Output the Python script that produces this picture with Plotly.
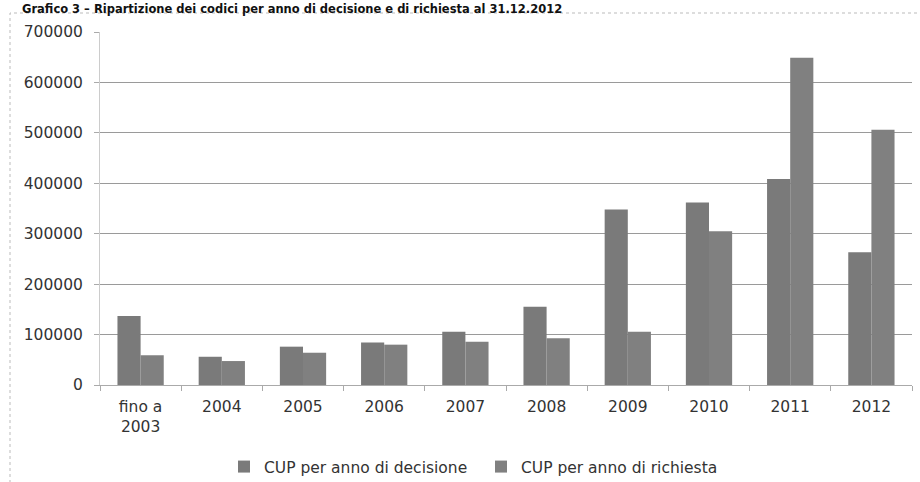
import plotly.graph_objects as go

categories = ["fino a<br>2003", "2004", "2005", "2006", "2007", "2008", "2009", "2010", "2011", "2012"]
decisione = [137000, 56000, 76000, 84500, 105500, 155000, 348000, 362000, 408500, 263000]
richiesta = [59000, 47500, 64000, 80000, 86000, 92500, 105500, 305000, 649000, 506000]
y_ticks = [0, 100000, 200000, 300000, 400000, 500000, 600000, 700000]

font_fam = "DejaVu Sans, sans-serif"

fig = go.Figure()
fig.add_trace(go.Bar(x=categories, y=decisione, name="CUP per anno di decisione",
                     marker=dict(color="#7a7a7a", line=dict(width=0))))
fig.add_trace(go.Bar(x=categories, y=richiesta, name="CUP per anno di richiesta",
                     marker=dict(color="#808080", line=dict(width=0))))

L, R, T, B = 100, 8, 32, 97
W, H = 920, 482
pw = W - L - R
ph = H - T - B

def px_x(px):
    return (px - L) / pw

def px_y(py):
    return (H - B - py) / ph

fig.update_layout(
    width=W, height=H,
    margin=dict(l=L, r=R, t=T, b=B, autoexpand=False),
    paper_bgcolor="white", plot_bgcolor="white",
    barmode="group", bargap=0.43, bargroupgap=0,
    font=dict(family=font_fam, size=15, color="#333333"),
    showlegend=True,
    legend=dict(orientation="h", x=px_x(481), xanchor="center", y=px_y(450), yanchor="top",
                font=dict(size=15.5, color="#333333"), itemsizing="constant",
                entrywidth=212),
    xaxis=dict(type="category", showline=True, linecolor="#aaaaaa", linewidth=1,
               ticks="outside", tickson="boundaries", ticklen=5, tickcolor="#aaaaaa",
               showgrid=False, tickfont=dict(size=15.5, color="#333333"),
               ticklabelstandoff=7),
    yaxis=dict(range=[0, 700000], tickvals=y_ticks, ticktext=[str(v) for v in y_ticks],
               showgrid=True, gridcolor="#9a9a9a", gridwidth=1,
               showline=True, linecolor="#cccccc", ticks="outside", ticklen=5,
               tickcolor="#aaaaaa", tickfont=dict(size=15.5, color="#333333"),
               ticklabelstandoff=8, zeroline=False),
    shapes=[dict(type="rect", xref="paper", yref="paper",
                 x0=px_x(10), x1=px_x(940), y0=px_y(500), y1=px_y(13),
                 line=dict(color="#bbbbbb", width=1, dash="dot"), layer="below")],
    annotations=[dict(text="<b>Grafico 3 – Ripartizione dei codici per anno di decisione e di richiesta al 31.12.2012</b>",
                      xref="paper", yref="paper", x=px_x(20), y=px_y(0), xanchor="left",
                      yanchor="top", showarrow=False,
                      font=dict(family="DejaVu Sans, sans-serif", size=11.5, color="#111111"))],
)

fig.write_html("out.html", config={"displayModeBar": False},
               post_script="document.body.style.margin='0';document.documentElement.style.overflow='hidden';")
